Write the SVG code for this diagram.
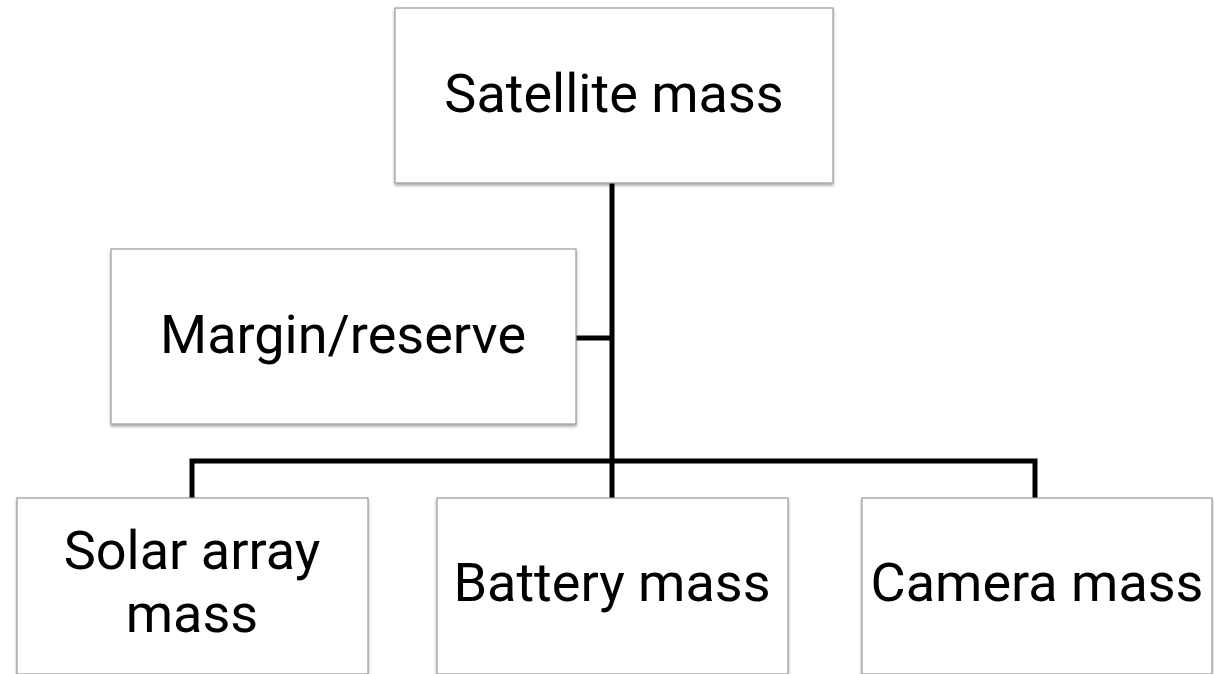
<svg xmlns="http://www.w3.org/2000/svg" width="1214" height="674" viewBox="0 0 1214 674">
<defs>
<filter id="sh" x="-5%" y="-5%" width="110%" height="120%">
<feDropShadow dx="0" dy="2" stdDeviation="1.5" flood-color="#000" flood-opacity="0.35"/>
</filter>
<style>
.box{fill:#fff;stroke:#9a9a9a;stroke-width:1.2;filter:url(#sh)}
.t{font-family:Roboto,"Liberation Sans",sans-serif;font-size:54px;fill:#000;text-anchor:middle}
.c{fill:none;stroke:#000;stroke-width:5}
</style>
</defs>
<rect width="1214" height="674" fill="#fff"/>
<g id="connectors">
<path class="c" d="M612 183 V461"/>
<path class="c" d="M576 338 H612"/>
<path class="c" d="M192 498 V461 H1035 V498"/>
<path class="c" d="M612 461 V498"/>
</g>
<g id="satellite">
<rect class="box" x="395" y="8" width="438" height="175"/>
<text class="t" x="614" y="112">Satellite mass</text>
</g>
<g id="margin">
<rect class="box" x="111" y="249" width="465" height="175"/>
<text class="t" x="343" y="353">Margin/reserve</text>
</g>
<g id="solar">
<rect class="box" x="17" y="498" width="351" height="176"/>
<text class="t" x="192" y="569">Solar array</text>
<text class="t" x="192" y="632">mass</text>
</g>
<g id="battery">
<rect class="box" x="437" y="498" width="351" height="176"/>
<text class="t" x="612" y="601">Battery mass</text>
</g>
<g id="camera">
<rect class="box" x="862" y="498" width="350" height="176"/>
<text class="t" x="1037" y="601">Camera mass</text>
</g>
</svg>
